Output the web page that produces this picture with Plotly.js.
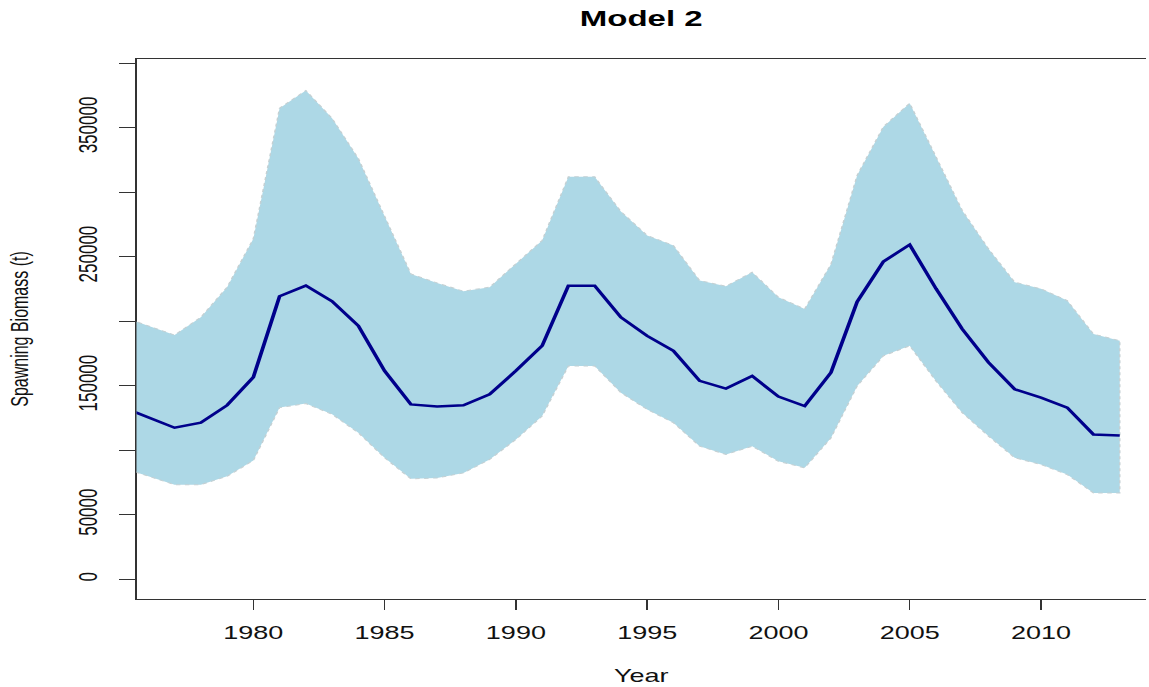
<!DOCTYPE html>
<html>
<head>
<meta charset="utf-8">
<script src="https://cdn.plot.ly/plotly-3.0.1.min.js"></script>
<style>
  html, body { margin: 0; padding: 0; background: #fff; overflow: hidden; }
  #wrap { width: 1149px; height: 687px; overflow: hidden; }
  #plot { width: 766px; height: 687px; transform: scaleX(1.5); transform-origin: 0 0; }
</style>
</head>
<body>
<div id="wrap"><div id="plot"></div></div>
<script>
// Years of the assessment
const years = [1975,1976,1977,1978,1979,1980,1981,1982,1983,1984,1985,1986,1987,1988,1989,
  1990,1991,1992,1993,1994,1995,1996,1997,1998,1999,2000,2001,2002,2003,2004,2005,2006,
  2007,2008,2009,2010,2011,2012,2013];

// Spawning biomass estimate (t)
const biomass = [133500,125500,117400,121300,134800,156500,219300,227500,215400,196400,161400,
  135500,133800,134800,143300,161500,180900,227500,227500,202900,188600,177000,153700,147700,
  157500,141500,134200,160200,215100,246200,259200,225200,193900,168000,147200,140700,133000,
  112200,111400];

// Upper confidence bound (t)
const upper = [203400,196300,189200,203000,226300,263800,365000,378700,357100,326000,280700,
  236600,229600,223200,226300,244000,262500,311800,311800,284900,266400,258600,231400,227000,
  237900,218500,209400,244000,313000,350700,368800,327400,285800,256000,230200,225000,215900,
  190000,184800];

// Lower confidence bound (t)
const lower = [86500,79900,73300,73300,79800,92000,133000,136100,127800,113500,94100,77800,
  78500,82400,92800,108300,126400,165300,165300,144600,131600,121300,103100,96700,103100,
  91400,86300,109500,149800,173100,180900,153600,129100,110900,94100,88900,81100,66900,66900];

// Axis ticks
const xTicks = [1980,1985,1990,1995,2000,2005,2010];
const yTicks = [0,50000,100000,150000,200000,250000,300000,350000,400000];
const yTickText = ['0','50000','','150000','','250000','','350000',''];

const bandX = years.concat(years.slice().reverse());
const bandY = upper.concat(lower.slice().reverse());

const font = 'Liberation Sans, Arial, sans-serif';

const traces = [
  {
    x: bandX, y: bandY, type: 'scatter', mode: 'lines',
    fill: 'toself', fillcolor: '#ADD8E6',
    line: { color: '#c4d0d3', width: 1, dash: 'dot' },
    hoverinfo: 'skip', showlegend: false
  },
  {
    x: years, y: biomass, type: 'scatter', mode: 'lines',
    line: { color: '#00008B', width: 2.5 },
    showlegend: false
  }
];

const layout = {
  width: 766, height: 687,
  paper_bgcolor: '#fff', plot_bgcolor: '#fff',
  margin: { l: 91, r: 2, t: 59, b: 88, pad: 0 },
  showlegend: false,
  title: {
    text: '<b>Model 2</b>',
    font: { family: font, size: 22, color: '#000' },
    x: 0.5, xref: 'paper', xanchor: 'center',
    y: 1 - 18 / 687, yref: 'container', yanchor: 'middle'
  },
  xaxis: {
    range: [1975.55, 2014.0],
    tickmode: 'array', tickvals: xTicks,
    ticks: 'outside', ticklen: 10, tickwidth: 1, tickcolor: '#333',
    showline: true, linecolor: '#333', linewidth: 1, mirror: true,
    showgrid: false, zeroline: false,
    ticklabelstandoff: 7,
    tickfont: { family: font, size: 18, color: '#111' },
    title: { text: 'Year', font: { family: font, size: 18, color: '#111' }, standoff: 27 },
    automargin: false
  },
  yaxis: {
    range: [-15300, 403100],
    tickmode: 'array', tickvals: yTicks, ticktext: yTickText,
    tickangle: -90,
    ticks: 'outside', ticklen: 10.7, tickwidth: 1, tickcolor: '#333',
    showline: true, linecolor: '#333', linewidth: 1, mirror: false,
    showgrid: false, zeroline: false, layer: 'below traces',
    ticklabelstandoff: 8,
    tickfont: { family: font, size: 17, color: '#111' },
    title: { text: 'Spawning Biomass (t)', font: { family: font, size: 16, color: '#111' }, standoff: 26 },
    automargin: false
  }
};

Plotly.newPlot('plot', traces, layout, { displayModeBar: false, staticPlot: true });
</script>
</body>
</html>
